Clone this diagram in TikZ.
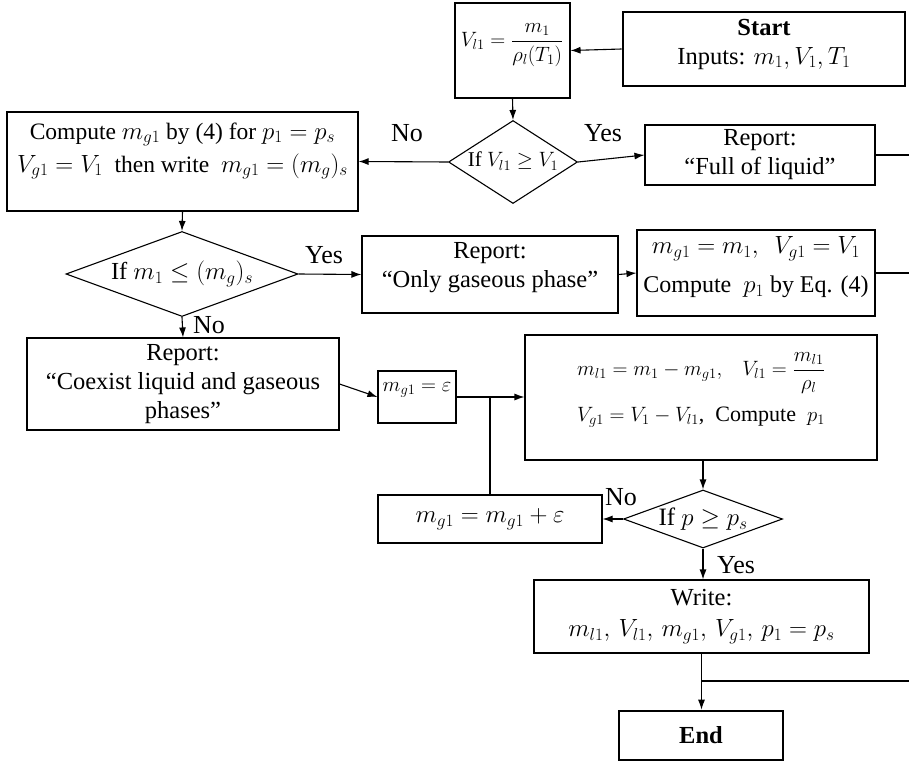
\documentclass[tikz,border=0pt]{standalone}
\usepackage{fontspec}
\setmainfont{Liberation Serif}
\usetikzlibrary{shapes.geometric,arrows.meta,calc}
\newcommand{\fsz}[1]{\fontsize{#1}{29}\selectfont}
\begin{document}
\begin{tikzpicture}[x=1pt,y=-1pt,
  font=\fsz{24.5},
  box/.style={draw, line width=1.1pt, inner sep=0pt, align=center},
  thickbox/.style={draw, line width=2.6pt, inner sep=0pt, align=center},
  dia/.style={draw, diamond, line width=1.1pt, inner sep=0pt, aspect=2},
  txt/.style={inner sep=0pt, align=center},
  arr/.style={line width=1.1pt, -{Latex[length=10pt,width=7pt]}},
  ln/.style={line width=1.1pt},
  lbl/.style={inner sep=0pt, font=\fsz{26}}]
\useasboundingbox (0,0) rectangle (909,762);

% boxes
\node[box, minimum width=115, minimum height=95] (vl) at (512.5,50.5) {};
\node[txt, font=\fsz{22}] (vltxt) at (512,45) {$V_{l1}=\displaystyle\frac{m_1}{\rho_l(T_1)}$};

\node[thickbox, minimum width=282, minimum height=74] (start) at (764,49) {};
\node[txt] (starttxt) at (764,44) {\textbf{Start}\\Inputs: $m_1, V_1, T_1$};

\node[dia, minimum width=129, minimum height=83, font=\fsz{21}] (d1) at (513,162) {\makebox[0pt]{\raisebox{5pt}{If $V_{l1}\geq V_1$}}};

\node[box, minimum width=230, minimum height=60] (full) at (760,155) {Report:\\``Full of liquid''};

\node[box, minimum width=351, minimum height=99] (comp) at (182.5,161.5) {};
\node[txt, font=\fsz{23.5}] (comptxt) at (182.5,151) {Compute $m_{g1}$ by (4) for $p_1=p_s$\\[4pt]$V_{g1}=V_1$ \ then write \ $m_{g1}=(m_g)_s$};

\node[dia, minimum width=232, minimum height=85] (d2) at (182,274) {\makebox[0pt]{\raisebox{5pt}{If $m_1\leq(m_g)_s$}}};

\node[box, minimum width=256, minimum height=77] (gas) at (490,274.5) {};
\node[txt] (gastxt) at (490,268) {Report:\\``Only gaseous phase''};

\node[box, minimum width=238, minimum height=86] (mg) at (756,273) {};
\node[txt, font=\fsz{24}] (mgtxt) at (756,267) {{\fsz{23}$m_{g1}=m_1,\ \ V_{g1}=V_1$}\\[10pt]Compute \ $p_1$ by Eq. (4)};

\node[box, minimum width=312, minimum height=92] (coex) at (183,384) {Report:\\``Coexist liquid and gaseous\\phases''};

\node[box, minimum width=78, minimum height=52] (eps) at (417,397) {};
\node[txt, font=\fsz{20}] (epstxt) at (417,390) {$m_{g1}=\varepsilon$};

\node[box, minimum width=352, minimum height=125] (big) at (701,397.5) {};
\node[txt, font=\fsz{22}] (bigtxt) at (701,390) {$m_{l1}=m_1-m_{g1},\ \ \ V_{l1}=\displaystyle\frac{m_{l1}}{\rho_l}$\\[12pt]$V_{g1}=V_1-V_{l1}$, \ Compute \ $p_1$};

\node[dia, minimum width=159, minimum height=58, font=\fsz{25}] (d3) at (703,519) {\makebox[0pt]{\raisebox{2pt}{If $p\geq p_s$}}};

\node[box, minimum width=224, minimum height=48, font=\fsz{23}] (inc) at (490,519) {$m_{g1}=m_{g1}+\varepsilon$};

\node[box, minimum width=335, minimum height=73] (write) at (701.5,616.5) {Write:\\[2pt]$m_{l1},\, V_{l1},\, m_{g1},\, V_{g1},\, p_1=p_s$};

\node[thickbox, minimum width=164, minimum height=49] (end) at (701,735.5) {\textbf{End}};

% labels
\node[lbl] (no1) at (407,133) {No};
\node[lbl] (yes1) at (603,133) {Yes};
\node[lbl] (yes2) at (324,255) {Yes};
\node[lbl] (no2) at (209,325) {No};
\node[lbl] (no3) at (621,497) {No};
\node[lbl] (yes3) at (736,565) {Yes};

% coordinates
\coordinate (j1) at (eps.east -| inc.north);
\coordinate (j2) at (701.5,681);
\coordinate (e1) at (909,155);
\coordinate (e2) at (909,273);
\coordinate (e3) at (909,681);

% connectors
\draw[arr] (start.west) -- (vl.east);
\draw[arr] (vl.south) -- (d1.north);
\draw[arr] (d1.east) -- (full.west);
\draw[arr] (d1.west) -- (comp.east);
\draw[ln] (full.east) -- (e1);
\draw[arr] (comp.south) -- (d2.north);
\draw[arr] (d2.east) -- (gas.west);
\draw[arr] (gas.east) -- (mg.west);
\draw[ln] (mg.east) -- (e2);
\draw[arr] (d2.south) -- (coex.north);
\draw[arr] (coex.east) -- (eps.west);
\draw[arr] (eps.east) -- (eps.east -| big.west);
\draw[ln] (inc.north) -- (j1);
\draw[arr] (d3.north |- big.south) -- (d3.north);
\draw[arr] (d3.west) -- (inc.east);
\draw[arr] (d3.south) -- (d3.south |- write.north);
\draw[arr] (write.south) -- (write.south |- end.north);
\draw[ln] (j2) -- (e3);
\end{tikzpicture}
\end{document}
